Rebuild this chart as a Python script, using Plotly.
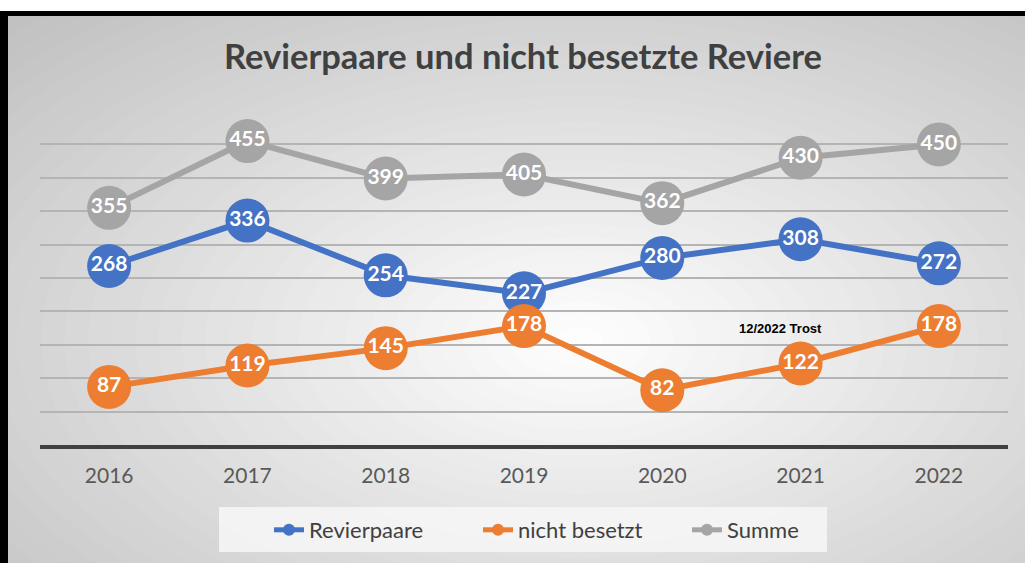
import plotly.graph_objects as go

years = ["2016", "2017", "2018", "2019", "2020", "2021", "2022"]
revierpaare = [268, 336, 254, 227, 280, 308, 272]
nicht_besetzt = [87, 119, 145, 178, 82, 122, 178]
summe = [355, 455, 399, 405, 362, 430, 450]

W, H = 1025, 563
L, R, T, B = 40, 1008, 111, 445  # plot area in px


def px2paper_x(px):
    return (px - L) / (R - L)


def px2paper_y(py):
    return (B - py) / (B - T)


fig = go.Figure()

series = [
    ("Revierpaare", revierpaare, "#4472C4"),
    ("nicht besetzt", nicht_besetzt, "#ED7D31"),
    ("Summe", summe, "#A5A5A5"),
]
for name, vals, col in series:
    fig.add_trace(go.Scatter(
        x=years, y=vals, name=name, mode="lines+markers+text",
        line=dict(color=col, width=6),
        marker=dict(color=col, size=44),
        text=[str(v) for v in vals], textposition="middle center",
        textfont=dict(family="Lato", size=21, color="white", weight="bold"),
        cliponaxis=False,
    ))

shapes = []
# radial gradient background
cx, cy, A, Bv = 580, 340, 620, 340
steps = 45
dmax = 1.7
for i in range(steps, 0, -1):
    d = dmax * i / steps
    v = int(round(255 - 47 * min(d, 1.4)))
    col = f"rgb({v},{v},{v})"
    shapes.append(dict(
        type="circle", xref="paper", yref="paper", layer="below",
        x0=px2paper_x(cx - A * d), x1=px2paper_x(cx + A * d),
        y0=px2paper_y(cy + Bv * d), y1=px2paper_y(cy - Bv * d),
        fillcolor=col, line=dict(width=0),
    ))
# white strip at the top and black frame
shapes.append(dict(type="rect", xref="paper", yref="paper", layer="below",
                   x0=px2paper_x(0), x1=px2paper_x(W), y0=px2paper_y(11), y1=px2paper_y(-5),
                   fillcolor="white", line=dict(width=0)))
shapes.append(dict(type="rect", xref="paper", yref="paper", layer="below",
                   x0=px2paper_x(0), x1=px2paper_x(W), y0=px2paper_y(16), y1=px2paper_y(11),
                   fillcolor="black", line=dict(width=0)))
shapes.append(dict(type="rect", xref="paper", yref="paper", layer="below",
                   x0=px2paper_x(0), x1=px2paper_x(8), y0=px2paper_y(H + 5), y1=px2paper_y(11),
                   fillcolor="black", line=dict(width=0)))
# legend background box
shapes.append(dict(type="rect", xref="paper", yref="paper", layer="below",
                   x0=px2paper_x(219), x1=px2paper_x(827), y0=px2paper_y(552), y1=px2paper_y(507),
                   fillcolor="rgba(245,245,245,0.9)", line=dict(width=0)))

fig.update_layout(
    width=W, height=H,
    margin=dict(l=L, r=W - R, t=T, b=H - B),
    paper_bgcolor="#c8c8c8",
    plot_bgcolor="rgba(0,0,0,0)",
    shapes=shapes,
    title=dict(text="<b>Revierpaare und nicht besetzte Reviere</b>",
               x=px2paper_x(523), xref="paper", xanchor="center",
               y=1 - 57 / H, yanchor="middle",
               font=dict(family="Lato", size=34.5, color="#404040")),
    showlegend=True,
    legend=dict(orientation="h", x=px2paper_x(269), xanchor="left",
                y=px2paper_y(530), yanchor="middle",
                bgcolor="rgba(0,0,0,0)", itemsizing="constant",
                entrywidth=164, entrywidthmode="pixels",
                font=dict(family="Lato", size=22, color="#404040")),
    xaxis=dict(type="category", range=[-0.5, 6.5], showgrid=False,
               showline=True, linecolor="#404040", linewidth=4,
               ticks="", ticklabelstandoff=9,
               tickfont=dict(family="Lato", size=21, color="#595959")),
    yaxis=dict(range=[0, 500], dtick=50, showticklabels=False,
               showgrid=True, gridcolor="#b4b4b4", gridwidth=1.5,
               zeroline=False, showline=False),
    annotations=[dict(text="<b>12/2022 Trost</b>", xref="paper", yref="paper",
                      x=px2paper_x(780), y=px2paper_y(328), showarrow=False,
                      xanchor="center", yanchor="middle",
                      font=dict(family="Liberation Sans", size=13, color="black"))],
)

fig.write_html("out.html", config={"displayModeBar": False},
               post_script="document.body.style.margin='0';document.body.style.overflow='hidden';")
